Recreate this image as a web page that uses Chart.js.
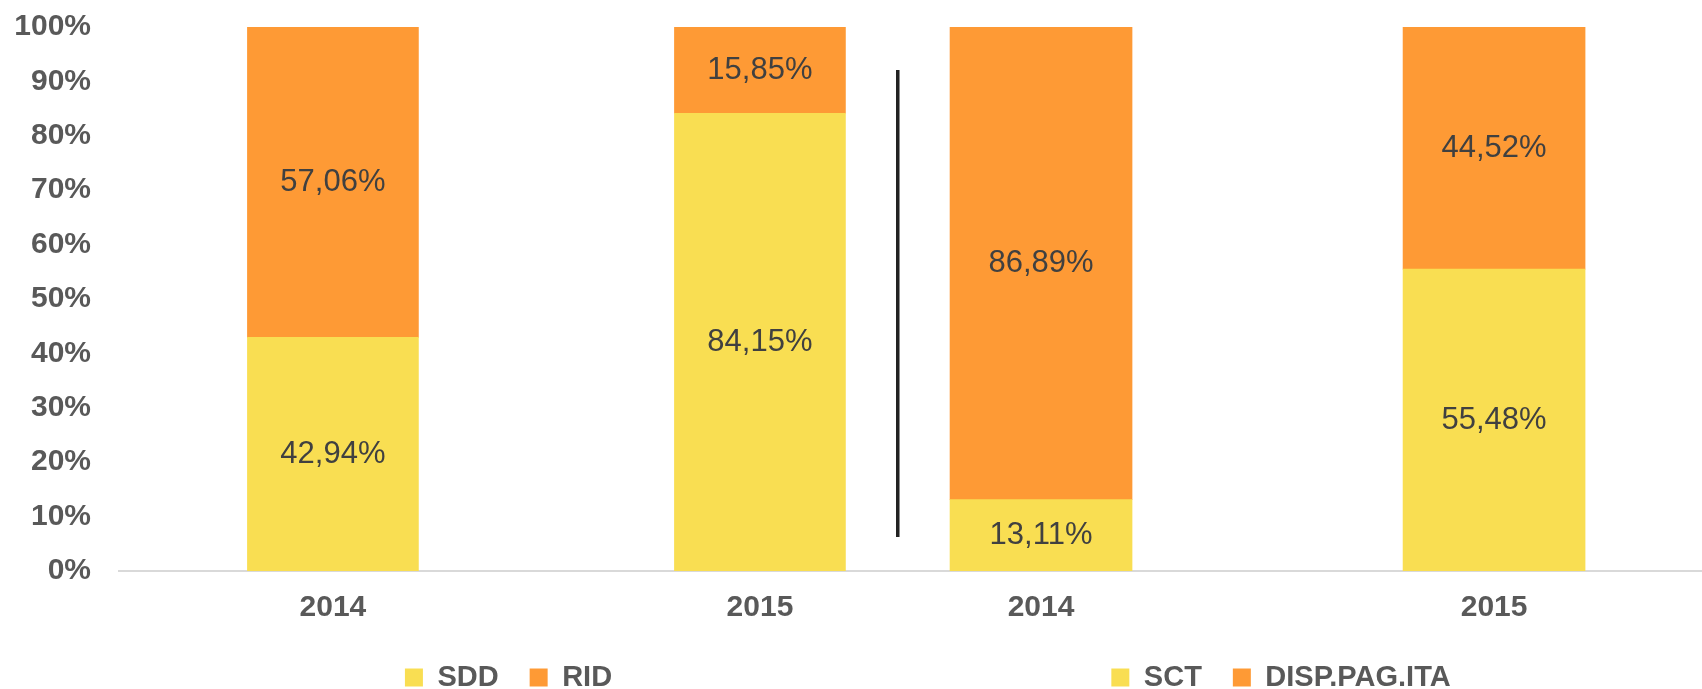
<!DOCTYPE html>
<html>
<head>
<meta charset="utf-8">
<script src="https://cdn.jsdelivr.net/npm/chart.js@4.4.0/dist/chart.umd.min.js"></script>
<style>
  html, body { margin: 0; padding: 0; background: #fff; width: 1702px; height: 689px; overflow: hidden; }
  .panel { position: absolute; top: 0; height: 689px; }
  #leftPanel { left: 0; width: 1017px; }
  #rightPanel { left: 860px; width: 842px; }
  /* separator between the two pasted charts */
  #divider { position: absolute; left: 896px; top: 70px; width: 3px; height: 467px; background: #222; box-shadow: 1px 0 0 #8c8c8c; }
</style>
</head>
<body>
<div class="panel" id="leftPanel"><canvas id="leftChart"></canvas></div>
<div class="panel" id="rightPanel"><canvas id="rightChart"></canvas></div>
<div id="divider"></div>
<script>
// --- data ---
const years = ['2014', '2015'];
const sddValues = [42.94, 84.15];
const ridValues = [57.06, 15.85];
const sctValues = [13.11, 55.48];
const dispValues = [86.89, 44.52];

const YELLOW = '#F9DE52';
const ORANGE = '#FE9A35';

Chart.defaults.font.family = 'Liberation Sans';
Chart.defaults.color = '#595959';

// value labels in the middle of each segment, Italian decimal comma
const barValueLabels = {
    id: 'barValueLabels',
    afterDatasetsDraw(chart) {
        const ctx = chart.ctx;
        ctx.save();
        ctx.font = '31px "Liberation Sans"';
        ctx.fillStyle = '#404040';
        ctx.textAlign = 'center';
        ctx.textBaseline = 'middle';
        chart.data.datasets.forEach((ds, di) => {
            chart.getDatasetMeta(di).data.forEach((bar, i) => {
                const c = bar.getCenterPoint();
                ctx.fillText(ds.data[i].y.toFixed(2).replace('.', ',') + '%', c.x, c.y);
            });
        });
        ctx.restore();
    }
};

const toPoints = values => values.map((v, i) => ({ x: i, y: v }));

function makeChart(id, bottomLabel, bottomValues, topLabel, topValues, opts) {
    new Chart(document.getElementById(id).getContext('2d'), {
        type: 'bar',
        data: {
            datasets: [
                { label: bottomLabel, data: toPoints(bottomValues), backgroundColor: YELLOW, borderWidth: 0, barThickness: opts.barWidth },
                { label: topLabel, data: toPoints(topValues), backgroundColor: ORANGE, borderWidth: 0, barThickness: opts.barWidth }
            ]
        },
        options: {
            responsive: true,
            maintainAspectRatio: false,
            animation: false,
            layout: { padding: { top: 27 } },
            plugins: {
                tooltip: { enabled: false },
                legend: {
                    position: 'bottom',
                    maxHeight: 57,
                    labels: { boxWidth: 18, boxHeight: 18, padding: 31, color: '#595959', font: { size: 29, weight: 'bold' } }
                }
            },
            scales: {
                x: {
                    type: 'linear',
                    stacked: true,
                    offset: false,
                    min: opts.xMin,
                    max: opts.xMax,
                    grid: { display: false, offset: false },
                    border: { color: '#D9D9D9', width: 2 },
                    afterBuildTicks: scale => { scale.ticks = years.map((_, i) => ({ value: i })); },
                    afterFit: scale => { scale.height = 61; },
                    ticks: {
                        autoSkip: false,
                        padding: 11,
                        color: '#595959',
                        font: { size: 30, weight: 'bold' },
                        callback: v => years[v]
                    }
                },
                y: {
                    display: opts.showY,
                    stacked: true,
                    min: 0,
                    max: 100,
                    grid: { display: false, drawTicks: false },
                    border: { display: false },
                    afterFit: scale => {
                        scale.width = opts.showY ? 119 : 0;
                        // tick padding is horizontal only here
                        scale.paddingTop = 0;
                        scale.paddingBottom = 0;
                    },
                    ticks: {
                        stepSize: 10,
                        padding: 28,
                        color: '#595959',
                        font: { size: 30, weight: 'bold' },
                        callback: v => v + '%'
                    }
                }
            }
        },
        plugins: [barValueLabels]
    });
}

makeChart('leftChart', 'SDD', sddValues, 'RID', ridValues,
    { showY: true, xMin: -0.501, xMax: 1.602, barWidth: 171 });
makeChart('rightChart', 'SCT', sctValues, 'DISP.PAG.ITA', dispValues,
    { showY: false, xMin: -0.3996, xMax: 1.459, barWidth: 182 });
</script>
</body>
</html>
